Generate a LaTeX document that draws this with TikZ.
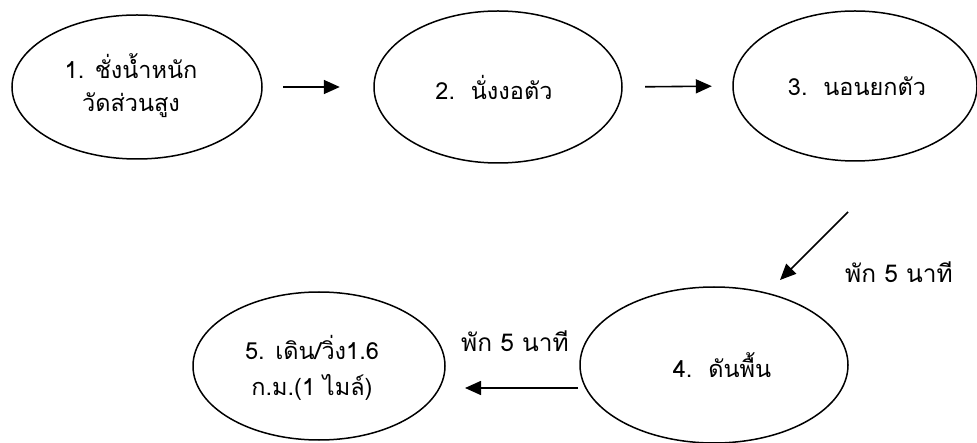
\documentclass[tikz,border=0pt]{standalone}
\usepackage{fontspec}
\setmainfont[Script=Thai]{Loma}
\usetikzlibrary{arrows.meta,shapes.geometric}
\tikzset{
  stage/.style={draw, line width=1.5pt, ellipse, inner sep=0pt},
  flow/.style={line width=1.6pt, -{Triangle[length=16pt,width=14pt]}},
  lbl/.style={font=\fontsize{23.5pt}{28pt}\selectfont, align=center},
}
\begin{document}
\begin{tikzpicture}[x=1pt,y=1pt]
\useasboundingbox (0,0) rectangle (977,442);
\fill[white] (0,0) rectangle (977,442);
% ellipses
\draw[stage] (137,355) ellipse [x radius=125, y radius=72];
\node[minimum width=250pt, minimum height=144pt, ellipse] (e1) at (137,355) {};
\draw[stage] (498,355) ellipse [x radius=124, y radius=76];
\node[minimum width=248pt, minimum height=152pt, ellipse] (e2) at (498,355) {};
\draw[stage] (855,356) ellipse [x radius=122, y radius=75];
\node[minimum width=244pt, minimum height=150pt, ellipse] (e3) at (855,356) {};
\draw[stage] (714,77) ellipse [x radius=134, y radius=78];
\node[minimum width=268pt, minimum height=156pt, ellipse] (e4) at (714,77) {};
\draw[stage] (319,76) ellipse [x radius=126, y radius=74];
\node[minimum width=252pt, minimum height=148pt, ellipse] (e5) at (319,76) {};
% texts
\node[lbl] (t1a) at (131,376) {1. ชั่งน้ำหนัก};
\node[lbl] (t1b) at (131,337) {วัดส่วนสูง};
\node[lbl] (t2) at (494,355) {2.\ \ นั่งงอตัว};
\node[lbl] (t3) at (857,356) {3.\ \ นอนยกตัว};
\node[lbl] (t4) at (722,77) {4.\ \ ดันพื้น};
\node[lbl] (t5a) at (312,95) {5. เดิน/วิ่ง1.6};
\node[lbl] (t5b) at (312,55) {ก.ม.(1 ไมล์)};
\node[lbl, font=\fontsize{24.5pt}{29pt}\selectfont] (r1) at (899,170) {พัก 5 นาที};
\node[lbl, font=\fontsize{24.5pt}{29pt}\selectfont] (r2) at (515,101) {พัก 5 นาที};
% connectors
\draw[flow, shorten <=21pt, shorten >=34pt] (e1.east) -- (e2.west);
\draw[flow, shorten <=23pt, shorten >=21pt] (e2.east) -- (e3.west);
\coordinate (d1) at (848,230);
\coordinate (d2) at (780,162);
\draw[flow] (d1) -- (d2);
\coordinate (h1) at (578,54);
\coordinate (h2) at (465,54);
\draw[flow] (h1) -- (h2);
\end{tikzpicture}
\end{document}
